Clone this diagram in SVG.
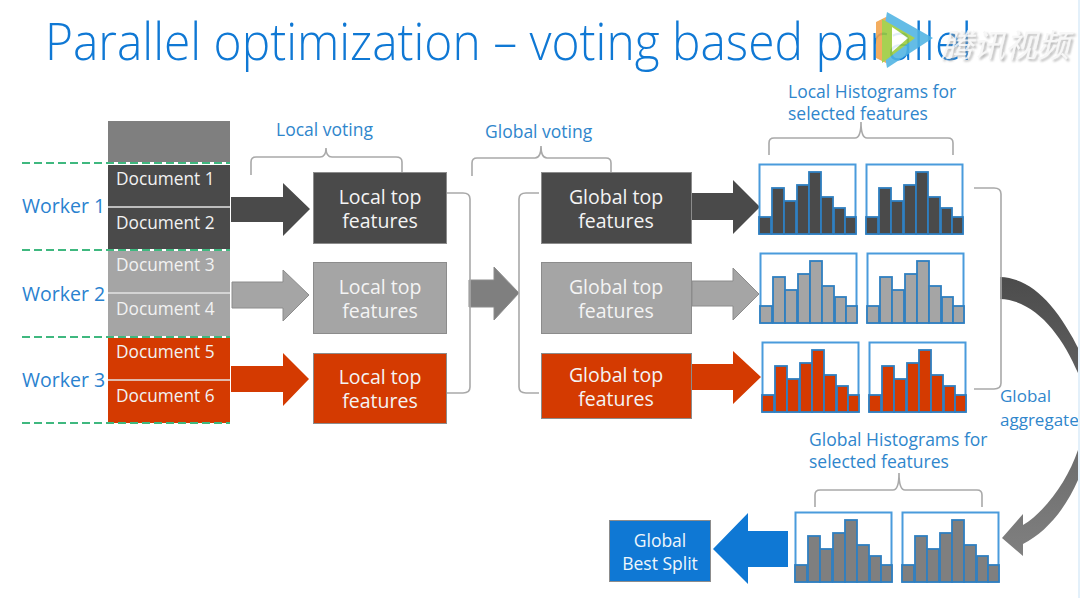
<svg xmlns="http://www.w3.org/2000/svg" width="1080" height="598" viewBox="0 0 1080 598">
<style>
text{font-family:"Open Sans","Noto Sans","Liberation Sans",sans-serif}
.dark{fill:#4a4a4a}.gray{fill:#a5a5a5}.red{fill:#d43a01}.mid{fill:#7f7f7f}.blue{fill:#0f78d4}
.box{stroke:#8c8c8c;stroke-width:1}
.wt{fill:#f2f2f2;font-size:17.3px;text-anchor:start}
.bt{fill:#f4f4f4;font-size:19.5px;text-anchor:middle}
.lb{fill:#2f86cc;font-size:17.500px}
.wk{fill:#2a82cf;font-size:19.5px}
.br{fill:none;stroke:#a9a9a9;stroke-width:1.6}
.dash{stroke:#3fb87f;stroke-width:2;stroke-dasharray:8 4}
.sep{stroke:#e4e4e4;stroke-width:1.6}
</style>
<defs>
<g id="hist">
<rect x="0.5" y="0.5" width="96" height="69" fill="#fff" stroke="#4a9bdc" stroke-width="2"/>
<g stroke="#2f7fc0" stroke-width="1.800">
<rect x="0" y="53" width="12" height="17"/><rect x="13" y="24" width="12" height="46"/><rect x="25" y="37" width="12" height="33"/><rect x="38" y="21" width="12" height="49"/><rect x="50" y="8" width="12" height="62"/><rect x="62" y="33" width="12" height="37"/><rect x="75" y="44" width="11" height="26"/><rect x="86" y="53" width="11" height="17"/>
</g>
</g>
<linearGradient id="curve" x1="0" y1="0" x2="0" y2="1"><stop offset="0" stop-color="#4c4c4c"/><stop offset="1" stop-color="#808080"/></linearGradient>
<filter id="sh" x="-10%" y="-20%" width="120%" height="150%"><feDropShadow dx="2" dy="2" stdDeviation="1.2" flood-color="#999" flood-opacity="0.8"/></filter>
</defs>
<rect width="1080" height="598" fill="#fff"/>

<text id="title" x="45" y="60" fill="#0f78d4" font-size="52" font-weight="300" textLength="927" lengthAdjust="spacingAndGlyphs">Parallel optimization – voting based parallel</text>

<g id="watermark" opacity="0.88">
<polygon points="876,22 886,17 886,63 876,58" fill="#f2a24a"/>
<polygon points="887,12 933,38 887,68 882,40" fill="#4fb3e3"/>
<polygon points="882,19 915,38 882,63" fill="#9ccb3b"/>
<polygon points="892,27 908,38 892,52" fill="#fff"/>
<text x="941" y="57" font-size="32" font-style="italic" fill="#f6f6f6" filter="url(#sh)" style="font-family:'Noto Sans CJK SC',sans-serif">腾讯视频</text>
</g>

<g id="connectors">
<polygon class="dark" points="231,197 283,197 283,183 310,209 283,236 283,222 231,222"/>
<polygon class="gray" stroke="#8c8c8c" points="232,282 283,282 283,270 309,295 283,321 283,308 232,308"/>
<polygon class="red" points="231,366 283,366 283,353 309,379 283,406 283,392 231,392"/>
<polygon class="mid" stroke="#8c8c8c" points="469,280 494,280 494,267 519,293 494,320 494,307 469,307"/>
<polygon class="dark" points="692,193 733,193 733,180 760,207 733,234 733,220 692,220"/>
<polygon class="gray" stroke="#8c8c8c" points="692,281 733,281 733,268 759,294 733,320 733,306 692,306"/>
<polygon class="red" points="692,364 733,364 733,351 761,377 733,404 733,390 692,390"/>
<polygon class="blue" points="788,531 748,531 748,513 713,549 748,584 748,567 788,567"/>
<path fill="url(#curve)" d="M1000 277C1035 278 1062 312 1085 362L1095 420L1078 480C1065 510 1045 533 1023 544L1023 556L1002 538L1023 514L1023 525C1045 512 1068 480 1078 450L1088 420L1078 373C1062 335 1035 300 1000 299Z"/>
<path class="br" d="M251 175V162Q251 157 256 157H320Q326 157 326 148Q326 157 332 157H396Q402 157 402 162V172"/>
<path class="br" d="M472 176V163Q472 158 477 158H535Q541 158 541 146Q541 158 547 158H606Q611 158 611 163V172"/>
<path class="br" d="M769 155V143Q769 138 774 138H855Q861 138 861 122Q861 138 867 138H948Q953 138 953 143V155"/>
<path class="br" d="M815 507V495Q815 490 820 490H893Q899 490 899 473Q899 490 905 490H977Q982 490 982 495V507"/>
<path class="br" d="M443 193H463Q470 193 470 199V387Q470 393 463 393H443"/>
<path class="br" d="M539 193H526Q519 193 519 199V387Q519 393 526 393H539"/>
<path class="br" d="M974 188H994Q1001 188 1001 194V383Q1001 389 994 389H974"/>
</g>

<g id="workers">
<rect id="doc-head" x="108" y="121" width="122" height="41" fill="#7f7f7f"/>
<g id="doc1"><rect class="dark" x="108" y="165" width="122" height="42"/><text class="wt" x="116" y="185">Document 1</text></g>
<g id="doc2"><rect class="dark" x="108" y="207" width="122" height="42"/><text class="wt" x="116" y="229">Document 2</text></g>
<g id="doc3"><rect class="gray" x="108" y="251" width="122" height="42"/><text class="wt" x="116" y="271">Document 3</text></g>
<g id="doc4"><rect class="gray" x="108" y="293" width="122" height="43"/><text class="wt" x="116" y="315">Document 4</text></g>
<g id="doc5"><rect class="red" x="108" y="338" width="122" height="42"/><text class="wt" x="116" y="358">Document 5</text></g>
<g id="doc6"><rect class="red" x="108" y="380" width="122" height="43"/><text class="wt" x="116" y="402">Document 6</text></g>
<line class="sep" x1="108" y1="207" x2="230" y2="207"/>
<line class="sep" x1="108" y1="293" x2="230" y2="293"/>
<line class="sep" x1="108" y1="380" x2="230" y2="380"/>
<line class="dash" x1="22" y1="163" x2="230" y2="163"/>
<line class="dash" x1="22" y1="250" x2="230" y2="250"/>
<line class="dash" x1="22" y1="337" x2="230" y2="337"/>
<line class="dash" x1="22" y1="423" x2="230" y2="423"/>
<text class="wk" x="22" y="213">Worker 1</text>
<text class="wk" x="22" y="301">Worker 2</text>
<text class="wk" x="22" y="387">Worker 3</text>
</g>

<g id="local-dark"><rect class="dark box" x="313.500" y="172.500" width="133" height="71"/><text class="bt"><tspan x="380" y="204">Local top</tspan><tspan x="380" y="228">features</tspan></text></g>
<g id="local-gray"><rect class="gray box" x="313.500" y="262.500" width="133" height="71"/><text class="bt"><tspan x="380" y="294">Local top</tspan><tspan x="380" y="318">features</tspan></text></g>
<g id="local-red"><rect class="red box" x="313.500" y="353.500" width="133" height="70"/><text class="bt"><tspan x="380" y="384">Local top</tspan><tspan x="380" y="408">features</tspan></text></g>
<g id="global-dark"><rect class="dark box" x="541.500" y="172.500" width="150" height="71"/><text class="bt"><tspan x="616" y="204">Global top</tspan><tspan x="616" y="228">features</tspan></text></g>
<g id="global-gray"><rect class="gray box" x="541.500" y="262.500" width="150" height="71"/><text class="bt"><tspan x="616" y="294">Global top</tspan><tspan x="616" y="318">features</tspan></text></g>
<g id="global-red"><rect class="red box" x="541.500" y="353.500" width="150" height="65"/><text class="bt"><tspan x="616" y="382">Global top</tspan><tspan x="616" y="406">features</tspan></text></g>

<g id="hist-dark"><use href="#hist" x="759" y="164" class="dark"/><use href="#hist" x="866" y="164" class="dark"/></g>
<g id="hist-gray"><use href="#hist" x="760" y="253" class="gray"/><use href="#hist" x="867" y="253" class="gray"/></g>
<g id="hist-red"><use href="#hist" x="762" y="342" class="red"/><use href="#hist" x="869" y="342" class="red"/></g>
<g id="hist-global"><use href="#hist" x="795" y="512" class="mid"/><use href="#hist" x="902" y="512" class="mid"/></g>

<g id="best-split"><rect class="blue box" x="609.500" y="520.500" width="101" height="61"/><text fill="#eef6fc" font-size="17.500" text-anchor="middle"><tspan x="660" y="547">Global</tspan><tspan x="660" y="570">Best Split</tspan></text></g>

<g id="labels">
<text class="lb" x="276" y="136">Local voting</text>
<text class="lb" x="485" y="138">Global voting</text>
<text class="lb"><tspan x="788" y="98">Local Histograms for</tspan><tspan x="788" y="120">selected features</tspan></text>
<text class="lb"><tspan x="809" y="446">Global Histograms for</tspan><tspan x="809" y="468">selected features</tspan></text>
<text class="lb" style="font-size:17px"><tspan x="1000" y="402">Global</tspan><tspan x="1000" y="426">aggregate</tspan></text>
</g>
<rect id="edge" x="1078" y="0" width="2" height="598" fill="#e3f0fa"/>
</svg>
